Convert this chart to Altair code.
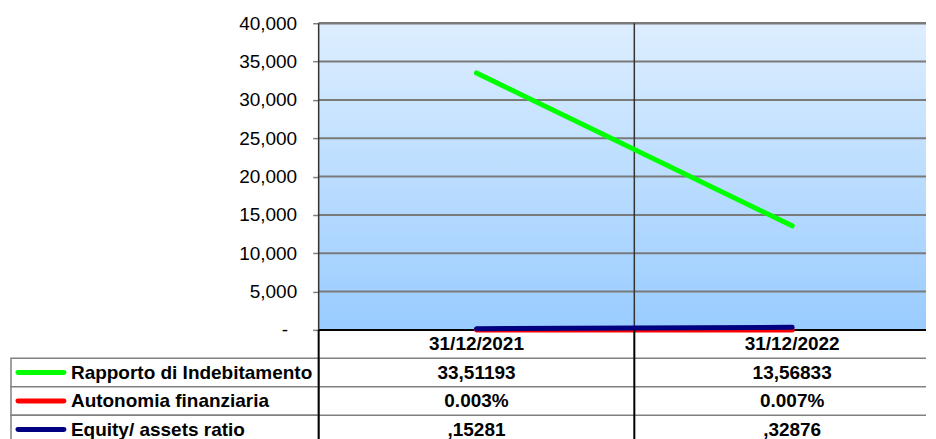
import altair as alt
import pandas as pd

FONT = "Liberation Sans"

categories = ["31/12/2021", "31/12/2022"]
series_names = ["Rapporto di Indebitamento", "Autonomia finanziaria", "Equity/ assets ratio"]
series_colors = ["#00FF00", "#FF0000", "#000080"]

# plotted values (chart scale)
rapporto_values = [33511.93, 13568.33]
autonomia_values = [0.03, 0.07]
equity_values = [152.81, 328.76]

# data table texts
rapporto_labels = ["33,51193", "13,56833"]
autonomia_labels = ["0.003%", "0.007%"]
equity_labels = [",15281", ",32876"]

y_ticks = [0, 5000, 10000, 15000, 20000, 25000, 30000, 35000, 40000]
y_domain = [0, 40000]

values_by_series = [rapporto_values, autonomia_values, equity_values]
labels_by_series = [rapporto_labels, autonomia_labels, equity_labels]

HEADER = "header"
table_rows = [HEADER] + series_names

rows = []
for name, color, vals, labs in zip(series_names, series_colors, values_by_series, labels_by_series):
    for cat, v, lab in zip(categories, vals, labs):
        rows.append({"category": cat, "series": name, "color": color, "value": v, "label": lab})
long_df = pd.DataFrame(rows)
header_df = pd.DataFrame({"category": categories, "series": [HEADER] * len(categories), "label": categories})
table_df = pd.concat([header_df, long_df[["category", "series", "label"]]], ignore_index=True)
cat_df = pd.DataFrame({"category": categories})
bg_df = pd.DataFrame({"top": [y_domain[1]], "bottom": [y_domain[0]]})
tick_df = pd.DataFrame({"tick": y_ticks})
legend_df = pd.DataFrame({"series": series_names, "color": series_colors})

PLOT_W = 608      # visible part of the plot (the reference is cut at the window edge)
BAND_RANGE = [0, 632]

x_scale = alt.Scale(type="band", domain=categories, paddingInner=0, paddingOuter=0, range=BAND_RANGE)
y_scale = alt.Scale(domain=y_domain, nice=False, zero=True)
row_scale = alt.Scale(type="band", domain=table_rows, paddingInner=0, paddingOuter=0)

y_axis = alt.Axis(
    title=None, values=y_ticks,
    labelExpr="datum.value == 0 ? '-' : format(datum.value, ',')",
    labelFont=FONT, labelFontSize=19, labelColor="black", labelFlush=False,
    labelPadding={"condition": {"test": "datum.value === 0", "value": 25}, "value": 16},
    tickSize=6, tickColor="#808080", tickWidth=1.5,
    domain=True, domainColor="black", domainWidth=2,
    grid=False,
)

gradient = {
    "gradient": "linear", "x1": 0, "y1": 0, "x2": 0, "y2": 1,
    "stops": [{"offset": 0, "color": "#DDEEFF"}, {"offset": 1, "color": "#99CCFF"}],
}

# ---------- plot ----------
bg = alt.Chart(bg_df).mark_rect(fill=gradient, strokeWidth=0).encode(
    y=alt.Y("top:Q", scale=y_scale, axis=y_axis),
    y2="bottom:Q",
)
hgrid = alt.Chart(tick_df).mark_rule().encode(
    y=alt.Y("tick:Q", scale=y_scale, axis=y_axis),
    color=alt.condition(alt.datum.tick == 0, alt.value("black"), alt.value("#7a7a7a")),
    strokeWidth=alt.condition(alt.datum.tick == y_domain[1], alt.value(2.5), alt.value(2)),
)
vgrid = alt.Chart(cat_df).mark_rule(strokeWidth=1.5, color="#333333").encode(
    x=alt.X("category:N", scale=x_scale, bandPosition=0, axis=None),
)

line_layers = []
for name in ["Autonomia finanziaria", "Equity/ assets ratio", "Rapporto di Indebitamento"]:
    col = series_colors[series_names.index(name)]
    line_layers.append(
        alt.Chart(long_df).transform_filter(alt.datum.series == name)
        .mark_line(color=col, strokeWidth=5, strokeCap="round")
        .encode(
            x=alt.X("category:N", scale=x_scale, axis=None, sort=categories),
            y=alt.Y("value:Q", scale=y_scale, axis=y_axis),
        )
    )

plot = alt.layer(bg, hgrid, vgrid, *line_layers).properties(width=PLOT_W, height=307)

spacer = alt.Chart(legend_df).mark_point(opacity=0).encode(
    x=alt.X("series:N", axis=None), y=alt.Y("series:N", axis=None)
).properties(width=308, height=307)

# ---------- table: label column ----------
boxes = alt.Chart(legend_df).mark_rect(fill="white", stroke="#808080", strokeWidth=1.5).encode(
    y=alt.Y("series:N", scale=row_scale, axis=None),
)
swatch = alt.Chart(legend_df).mark_rule(strokeWidth=5, strokeCap="round").encode(
    x=alt.value(7), x2=alt.value(53),
    y=alt.Y("series:N", scale=row_scale, axis=None),
    color=alt.Color("color:N", scale=None),
)
names = alt.Chart(legend_df).mark_text(align="left", baseline="middle", font=FONT, fontSize=19,
                                       fontWeight="bold", color="black").encode(
    x=alt.value(60),
    y=alt.Y("series:N", scale=row_scale, axis=None),
    text="series:N",
)
label_col = alt.layer(boxes, swatch, names).properties(width=308, height=114)

# ---------- table: value columns ----------
row_lines = alt.Chart(legend_df).mark_rule(strokeWidth=1.5, color="#808080").encode(
    y=alt.Y("series:N", scale=row_scale, bandPosition=0, axis=None),
)
col_lines = alt.Chart(cat_df).mark_rule(strokeWidth=2, color="black").encode(
    x=alt.X("category:N", scale=x_scale, bandPosition=0, axis=None),
)
value_text = alt.Chart(table_df).mark_text(align="center", baseline="middle", font=FONT, fontSize=19,
                                           fontWeight="bold", color="black").encode(
    x=alt.X("category:N", scale=x_scale, axis=None),
    y=alt.Y("series:N", scale=row_scale, axis=None),
    text="label:N",
)
value_col = alt.layer(row_lines, col_lines, value_text).properties(width=PLOT_W, height=114)

chart = alt.concat(spacer, plot, label_col, value_col, columns=2,
                   spacing={"row": 0, "column": 0}, bounds="flush").properties(
    padding={"left": 2, "top": 6, "right": 0, "bottom": 0}, background="white"
).configure_view(stroke=None).resolve_scale(x="independent", y="independent")

chart.save("out.html", embed_options={"renderer": "svg", "actions": False})
